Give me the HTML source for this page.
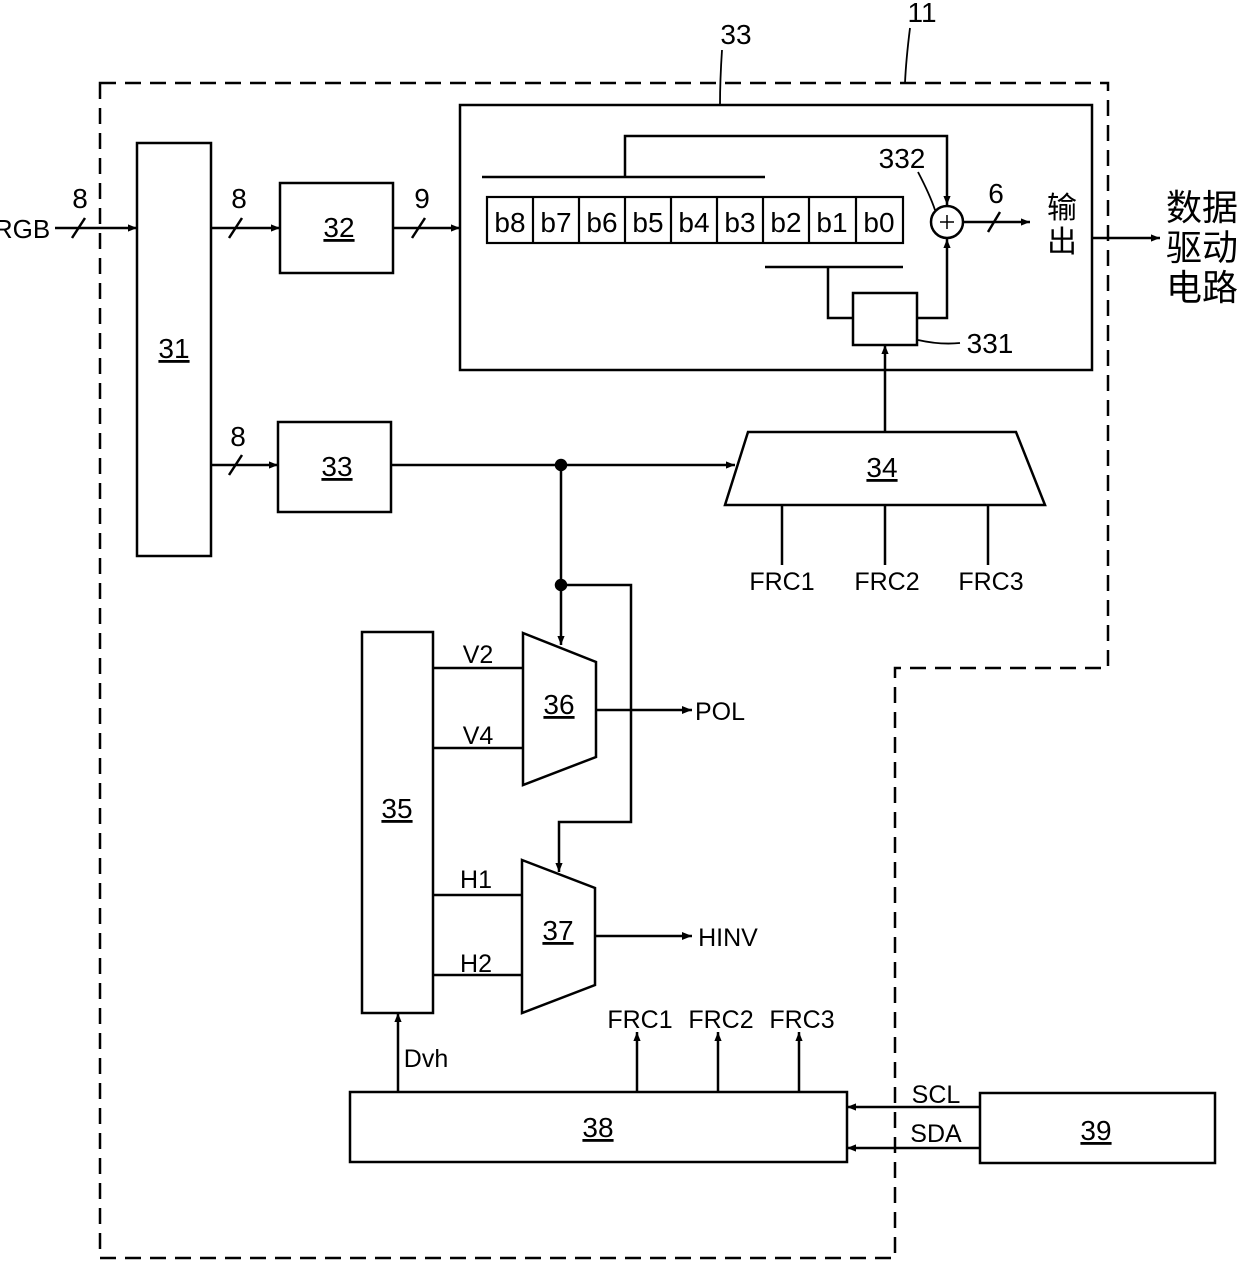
<!DOCTYPE html>
<html><head><meta charset="utf-8"><style>html,body{margin:0;padding:0;background:#fff}svg{display:block}</style></head><body>
<svg width="1240" height="1263" viewBox="0 0 1240 1263" xmlns="http://www.w3.org/2000/svg" font-family="Liberation Sans, sans-serif" fill="none" stroke="#000" stroke-width="2.5">
<defs><marker id="a" viewBox="0 0 10 10" refX="10" refY="5" markerWidth="9" markerHeight="9" orient="auto" markerUnits="userSpaceOnUse"><path d="M0,1 L10,5 L0,9z" fill="#000" stroke="none"/></marker>
<marker id="b" viewBox="0 0 10 10" refX="10" refY="5" markerWidth="14" markerHeight="10" orient="auto" markerUnits="userSpaceOnUse"><path d="M0,1 L10,5 L0,9z" fill="#000" stroke="none"/></marker></defs>
<!-- dashed boundary -->
<path d="M100,83 H1108 V668 H895 V1258 H100 Z" stroke-dasharray="16,9"/>
<path d="M910,28 Q906,60 905,83" stroke-width="1.8"/>
<path d="M722,50 Q720,80 720,105" stroke-width="1.8"/>
<!-- big box 33 -->
<rect x="460" y="105" width="632" height="265" fill="#fff"/>
<g stroke-width="2.2">
<rect x="487" y="197" width="416" height="46"/>
<path d="M533,197V243M579,197V243M625,197V243M671,197V243M717,197V243M763,197V243M809,197V243M856,197V243"/>
</g>
<path d="M482,177 H765 M625,177 V136 H947 V205" marker-end="url(#a)"/>
<circle cx="947" cy="222" r="16"/>
<path d="M940,222h14M947,215v14" stroke-width="1.5"/>
<path d="M765,267 H903 M828,267 V318 H853"/>
<rect x="853" y="293" width="64" height="52"/>
<path d="M917,318 H947 V239" marker-end="url(#a)"/>
<path d="M963,222 H1030" marker-end="url(#a)"/>
<path d="M988,232 L1000,212" />
<path d="M918,340 Q940,345 960,343" stroke-width="1.8"/>
<path d="M918,172 Q930,195 935,210" stroke-width="1.8"/>
<path d="M1092,238 H1160" marker-end="url(#a)"/>
<!-- block 31 etc -->
<rect x="137" y="143" width="74" height="413"/>
<path d="M55,228 H137" marker-end="url(#a)"/><path d="M72,238 L85,218"/>
<path d="M211,228 H280" marker-end="url(#a)"/><path d="M229,238 L242,218"/>
<rect x="280" y="183" width="113" height="90"/>
<path d="M393,228 H460" marker-end="url(#a)"/><path d="M412,238 L425,218"/>
<path d="M211,465 H278" marker-end="url(#a)"/><path d="M229,475 L242,455"/>
<rect x="278" y="422" width="113" height="90"/>
<path d="M391,465 H735" marker-end="url(#a)"/>
<circle cx="561" cy="465" r="5" fill="#000"/>
<path d="M725,505 L748,432 H1016 L1045,505 Z"/>
<path d="M885,432 V345" marker-end="url(#a)"/>
<path d="M782,505V565M885,505V565M988,505V565"/>
<path d="M561,465 V645" marker-end="url(#a)"/>
<circle cx="561" cy="585" r="5" fill="#000"/>
<path d="M561,585 H631 V822 H559 V872" marker-end="url(#a)"/>
<rect x="362" y="632" width="71" height="381"/>
<path d="M523,633 L596,662 V757 L523,785 Z"/>
<path d="M433,668H523M433,748H523"/>
<path d="M596,710 H692" marker-end="url(#b)"/>
<path d="M522,860 L595,888 V985 L522,1013 Z"/>
<path d="M433,895H522M433,975H522"/>
<path d="M595,936 H692" marker-end="url(#b)"/>
<rect x="350" y="1092" width="497" height="70"/>
<path d="M398,1092 V1013" marker-end="url(#a)"/>
<path d="M637,1092V1032" marker-end="url(#a)"/>
<path d="M718,1092V1032" marker-end="url(#a)"/>
<path d="M799,1092V1032" marker-end="url(#a)"/>
<rect x="980" y="1093" width="235" height="70"/>
<path d="M980,1107 H847" marker-end="url(#a)"/>
<path d="M980,1148 H847" marker-end="url(#a)"/>
<g fill="#000" stroke="none" font-size="28" text-anchor="middle">
<text x="922" y="22">11</text>
<text x="736" y="44">33</text>
<text x="902" y="168">332</text>
<text x="990" y="353">331</text>
<text x="996" y="203">6</text>
<text x="510" y="232">b8</text><text x="556" y="232">b7</text><text x="602" y="232">b6</text><text x="648" y="232">b5</text><text x="694" y="232">b4</text><text x="740" y="232">b3</text><text x="786" y="232">b2</text><text x="832" y="232">b1</text><text x="879" y="232">b0</text>
<text x="22" y="238" font-size="26">RGB</text>
<text x="80" y="208">8</text><text x="239" y="208">8</text><text x="422" y="208">9</text><text x="238" y="446">8</text>
<text x="174" y="358" text-decoration="underline">31</text>
<text x="339" y="237" text-decoration="underline">32</text>
<text x="337" y="476" text-decoration="underline">33</text>
<text x="882" y="477" text-decoration="underline">34</text>
<text x="397" y="818" text-decoration="underline">35</text>
<text x="559" y="714" text-decoration="underline">36</text>
<text x="558" y="940" text-decoration="underline">37</text>
<text x="598" y="1137" text-decoration="underline">38</text>
<text x="1096" y="1140" text-decoration="underline">39</text>
<g font-size="25">
<text x="782" y="590">FRC1</text><text x="887" y="590">FRC2</text><text x="991" y="590">FRC3</text>
<text x="640" y="1028">FRC1</text><text x="721" y="1028">FRC2</text><text x="802" y="1028">FRC3</text>
<text x="478" y="663">V2</text><text x="478" y="744">V4</text>
<text x="476" y="888">H1</text><text x="476" y="972">H2</text>
<text x="720" y="720">POL</text><text x="728" y="946">HINV</text>
<text x="426" y="1067">Dvh</text>
<text x="936" y="1103">SCL</text><text x="936" y="1142">SDA</text>
</g>
<g font-family="Liberation Sans, Noto Sans CJK SC, sans-serif">
<text x="1062" y="218" font-size="30">输</text><text x="1062" y="252" font-size="30">出</text>
<text x="1202" y="220" font-size="36">数据</text><text x="1202" y="260" font-size="36">驱动</text><text x="1202" y="300" font-size="36">电路</text>
</g>
</g>
</svg>
</body></html>
